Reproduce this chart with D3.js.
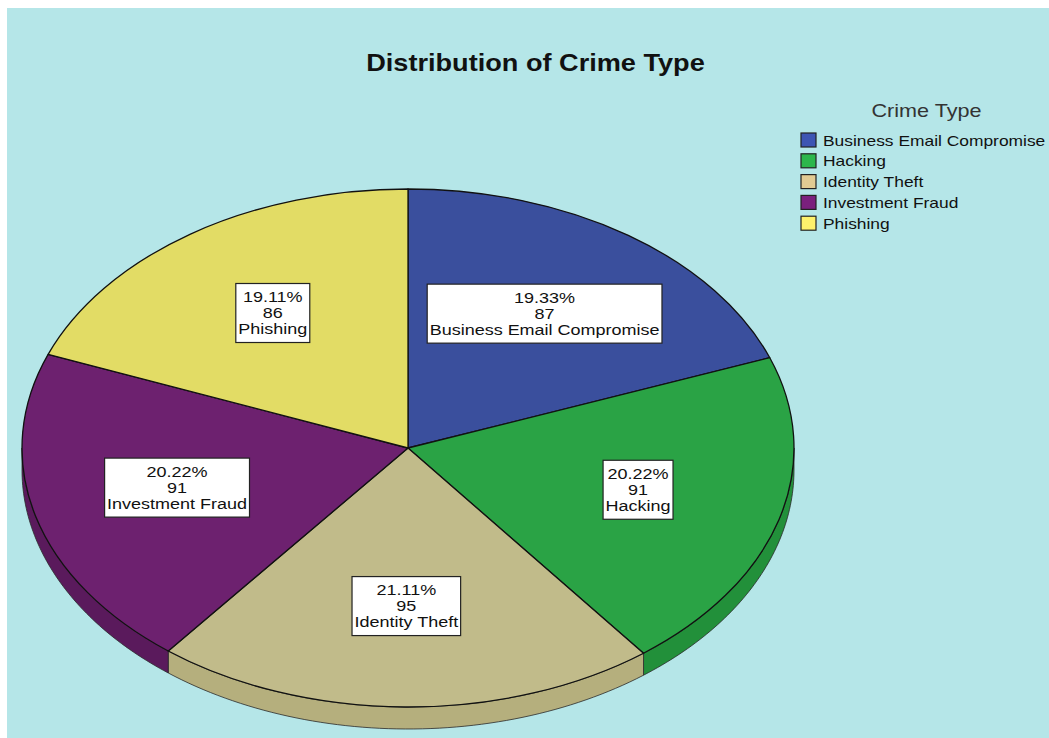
<!DOCTYPE html>
<html>
<head>
<meta charset="utf-8">
<script src="https://cdn.jsdelivr.net/npm/d3@7"></script>
<style>
  html, body { margin: 0; padding: 0; background: #ffffff; overflow: hidden; }
  svg { display: block; }
  text { font-family: "Liberation Sans", Arial, sans-serif; fill: #111; }
</style>
</head>
<body>
<div id="chart"></div>
<script>
// Crime type counts
const categories = ["Business Email Compromise", "Hacking", "Identity Theft", "Investment Fraud", "Phishing"];
const counts = [87, 91, 95, 91, 86];

// Slice colours: top face, side wall, legend swatch
const topColors = ["#3a4f9d", "#2aa345", "#c1bb8a", "#6d216f", "#e2dc65"];
const sideColors = ["#2f4185", "#22903a", "#b5af7d", "#5a1a5c", "#cfc957"];
const swatchColors = ["#3e55b3", "#2db64b", "#e2cb93", "#7b207d", "#fdf16c"];

const chartTitle = "Distribution of Crime Type";
const legendTitle = "Crime Type";

const W = 1049, H = 738;
const cx = 408, cy = 448, rx = 386, ry = 259, depth = 22;
const stretch = 1.2; // horizontal text stretch

const svg = d3.select("#chart").append("svg")
  .attr("width", W).attr("height", H);

svg.append("rect").attr("x", 7).attr("y", 8)
  .attr("width", W - 7).attr("height", H - 8)
  .attr("fill", "#b5e6e8");

// Helper: horizontally stretched text
function sText(g, x, y, str, size, anchor, weight, sx) {
  return g.append("text")
    .attr("transform", `translate(${x},${y}) scale(${sx || stretch},1)`)
    .attr("text-anchor", anchor)
    .attr("font-size", size)
    .attr("font-weight", weight || "normal")
    .text(str);
}

// Title
sText(svg, 535.5, 71, chartTitle, 23, "middle", "bold", 1.18);

const total = d3.sum(counts);
const pct = d3.format(".2%");
const arcs = d3.pie().sort(null).value(d => d).startAngle(0).endAngle(2 * Math.PI)(counts);

// Side walls (front half only, angles between 90° and 270° clockwise from top)
const sideG = svg.append("g");
const ex = t => cx + rx * Math.sin(t);
const ey = t => cy - ry * Math.cos(t);
arcs.forEach((a, i) => {
  const a0 = Math.max(a.startAngle, Math.PI / 2);
  const a1 = Math.min(a.endAngle, 3 * Math.PI / 2);
  if (a0 >= a1) return;
  const n = 60;
  const ts = d3.range(n + 1).map(k => a0 + (a1 - a0) * k / n);
  const pts = ts.map(t => [ex(t), ey(t)])
    .concat(ts.slice().reverse().map(t => [ex(t), ey(t) + depth]));
  sideG.append("path")
    .attr("d", d3.line()(pts) + "Z")
    .attr("fill", sideColors[i])
    .attr("stroke", "#2a2a2a")
    .attr("stroke-width", 0.8)
    .attr("stroke-linejoin", "round");
});

// Top face
const arcGen = d3.arc().innerRadius(0).outerRadius(rx);
const topG = svg.append("g")
  .attr("transform", `translate(${cx},${cy}) scale(1,${ry / rx})`);
topG.selectAll("path").data(arcs).join("path")
  .attr("d", arcGen)
  .attr("fill", (d, i) => topColors[i])
  .attr("stroke", "#111")
  .attr("stroke-width", 1.3)
  .attr("stroke-linejoin", "round")
  .attr("vector-effect", "non-scaling-stroke");

// Slice labels: percent, count, category in a white box
const labelArc = d3.arc().innerRadius(rx * 0.62).outerRadius(rx * 0.62);
const labelG = svg.append("g");
arcs.forEach((a, i) => {
  const c = labelArc.centroid(a);
  const lx = cx + c[0];
  const ly = cy + c[1] * ry / rx - 2.5;
  const lines = [pct(counts[i] / total), String(counts[i]), categories[i]];
  const g = labelG.append("g");
  const rect = g.append("rect");
  const texts = lines.map((s, k) => sText(g, lx, ly + (k - 1) * 16 + 5.3, s, 15, "middle"));
  const wMax = d3.max(texts, t => t.node().getComputedTextLength()) * stretch;
  const bw = wMax + 5, bh = 59;
  rect.attr("x", lx - bw / 2).attr("y", ly - bh / 2)
    .attr("width", bw).attr("height", bh)
    .attr("fill", "#ffffff").attr("stroke", "#222").attr("stroke-width", 1.2);
});

// Legend
const legG = svg.append("g");
sText(legG, 926.5, 117, legendTitle, 18, "middle").style("fill", "#333");
categories.forEach((name, i) => {
  const yc = 140 + i * 20.8;
  legG.append("rect")
    .attr("x", 801).attr("y", yc - 7)
    .attr("width", 15).attr("height", 14)
    .attr("fill", swatchColors[i])
    .attr("stroke", "#222").attr("stroke-width", 1.2);
  sText(legG, 823, yc + 5.5, name, 15, "start", "normal", 1.16);
});
</script>
</body>
</html>
